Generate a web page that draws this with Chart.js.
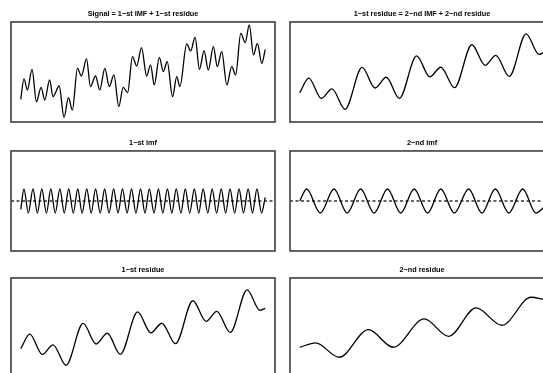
<!DOCTYPE html>
<html>
<head>
<meta charset="utf-8">
<script src="https://cdn.jsdelivr.net/npm/chart.js@4.4.1/dist/chart.umd.min.js"></script>
<style>
body { margin: 0; width: 543px; height: 373px; overflow: hidden; background: #fff; position: relative; }
canvas { position: absolute; }
</style>
</head>
<body>
<canvas id="signal" width="268" height="116" style="left:9px;top:8px"></canvas>
<canvas id="res1top" width="268" height="116" style="left:288px;top:8px"></canvas>
<canvas id="imf1" width="268" height="116" style="left:9px;top:137px"></canvas>
<canvas id="imf2" width="268" height="116" style="left:288px;top:137px"></canvas>
<canvas id="res1" width="268" height="116" style="left:9px;top:264px"></canvas>
<canvas id="res2" width="268" height="116" style="left:288px;top:264px"></canvas>
<script>
// time of each extremum (0..100) and its value
var signalT = [0, 1.3, 2.7, 4.6, 6.4, 8.3, 9.8, 11.8, 13.2, 15.7, 17.7, 19.5, 21.1, 23.2, 24.8, 26.9, 28.5, 30.6, 32.3,
	34.4, 36.2, 38.1, 40.1, 41.9, 43.7, 45.7, 47.4, 49.4, 51.5, 53.1, 54.6, 56.7, 58.3, 59.9, 62.1, 63.8, 65.1,
	67.9, 69.5, 71.3, 73.1, 75.0, 76.7, 78.8, 80.4, 82.2, 84.3, 86.3, 87.9, 90.0, 91.8, 93.5, 95.2, 96.8, 98.6, 100];
var signalV = [2.83, 5.38, 4.0, 6.58, 2.54, 4.33, 2.75, 5.25, 3.17, 4.5, 0.58, 3.04, 1.5, 6.71, 5.75, 7.88, 4.42, 5.75, 4.0,
	6.71, 4.42, 5.88, 1.92, 4.33, 3.67, 8.17, 7.0, 9.29, 5.75, 7.13, 4.63, 8.08, 6.29, 7.54, 3.17, 5.67, 4.42,
	9.75, 8.88, 10.58, 6.58, 8.92, 6.5, 9.42, 6.92, 8.79, 4.63, 6.92, 5.88, 11.08, 9.92, 12.13, 8.38, 9.83, 7.33, 9.08];

var imf1T = [0, 1.3, 3.1, 5.0, 6.8, 8.6, 10.5, 12.3, 14.1, 16.0, 17.8, 19.6, 21.5, 23.3, 25.1, 27.0, 28.8, 30.6, 32.5,
	34.3, 36.1, 38.0, 39.8, 41.6, 43.5, 45.3, 47.1, 49.0, 50.8, 52.6, 54.5, 56.3, 58.1, 60.0, 61.8, 63.6, 65.5,
	67.3, 69.1, 71.0, 72.8, 74.6, 76.5, 78.3, 80.1, 82.0, 83.8, 85.6, 87.5, 89.3, 91.1, 93.0, 94.8, 96.6, 98.5, 100];
var imf1V = [-0.7, 1, -1, 1, -1, 1, -1, 1, -1, 1, -1, 1, -1, 1, -1, 1, -1, 1, -1,
	1, -1, 1, -1, 1, -1, 1, -1, 1, -1, 1, -1, 1, -1, 1, -1, 1, -1,
	1, -1, 1, -1, 1, -1, 1, -1, 1, -1, 1, -1, 1, -1, 1, -1, 1, -1, 0.3];

var res1T = [0, 3.7, 8.8, 13.2, 18.5, 25.5, 30.8, 35.4, 40.7, 47.8, 53.2, 57.7, 63.3, 70.4, 75.8, 80.2, 85.7, 92.6, 97.8, 100];
var res1V = [3.67, 5.48, 2.94, 4.15, 1.59, 6.82, 4.25, 5.59, 2.94, 8.25, 5.65, 6.84, 4.29, 9.65, 7.08, 8.32, 5.69, 11.02, 8.46, 8.7];

var imf2T = [0, 2.8, 8.4, 14.0, 19.4, 24.9, 30.4, 35.9, 41.3, 46.8, 52.3, 57.7, 63.2, 69.1, 74.5, 80.0, 85.5, 91.2, 96.6, 100];
var imf2V = [0, 1, -1, 1, -1, 1, -1, 1, -1, 1, -1, 1, -1, 1, -1, 1, -1, 1, -1, -0.5];

var res2T = [0, 6.5, 16.1, 28.1, 38.2, 50.9, 60.9, 72.1, 82.7, 94.6, 100];
var res2V = [3.84, 4.38, 2.59, 6.04, 3.84, 7.38, 5.21, 8.75, 6.59, 10.09, 9.79];

var titles = ['Signal = 1\u2212st IMF + 1\u2212st residue', '1\u2212st residue = 2\u2212nd IMF + 2\u2212nd residue',
	'1\u2212st imf', '2\u2212nd imf', '1\u2212st residue', '2\u2212nd residue'];

var frame = {
	id : 'frame',
	afterDraw : function(chart) {
		var a = chart.chartArea, ctx = chart.ctx;
		ctx.save();
		ctx.strokeStyle = '#333';
		ctx.lineWidth = 1.5;
		ctx.strokeRect(a.left, a.top, a.right - a.left, a.bottom - a.top);
		ctx.restore();
	}
};

function points(ts, vs) {
	var out = [];
	for ( var i in ts) {
		out.push({ x : ts[i], y : vs[i] });
	}
	return out;
}

function panel(id, title, ts, vs, ymin, ymax, zero) {
	var datasets = [ {
		data : points(ts, vs),
		borderColor : '#000',
		borderWidth : 1.3,
		pointRadius : 0,
		cubicInterpolationMode : 'monotone',
		fill : false
	} ];
	if (zero) {
		datasets.push({
			data : [ { x : -4, y : 0 }, { x : 104, y : 0 } ],
			borderColor : '#333',
			borderWidth : 1.3,
			borderDash : [ 3, 2.5 ],
			pointRadius : 0,
			fill : false
		});
	}
	new Chart(document.getElementById(id), {
		type : 'line',
		data : { datasets : datasets },
		options : {
			responsive : false,
			animation : false,
			layout : { padding : 2 },
			plugins : {
				legend : { display : false },
				tooltip : { enabled : false },
				title : {
					display : true,
					text : title,
					color : '#000',
					font : { family : 'Liberation Sans', size : 7.3, weight : 'bold' },
					padding : { top : 0, bottom : 3.2 }
				}
			},
			scales : {
				x : { type : 'linear', display : false, min : -4, max : 104 },
				y : { display : false, min : ymin, max : ymax }
			}
		},
		plugins : [ frame ]
	});
}

panel('signal', titles[0], signalT, signalV, 0, 12.5, false);
panel('res1top', titles[1], res1T, res1V, 0, 12.5, false);
panel('imf1', titles[2], imf1T, imf1V, -4.17, 4.17, true);
panel('imf2', titles[3], imf2T, imf2V, -4.17, 4.17, true);
panel('res1', titles[4], res1T, res1V, 0, 12.5, false);
panel('res2', titles[5], res2T, res2V, 0, 12.5, false);
</script>
</body>
</html>
